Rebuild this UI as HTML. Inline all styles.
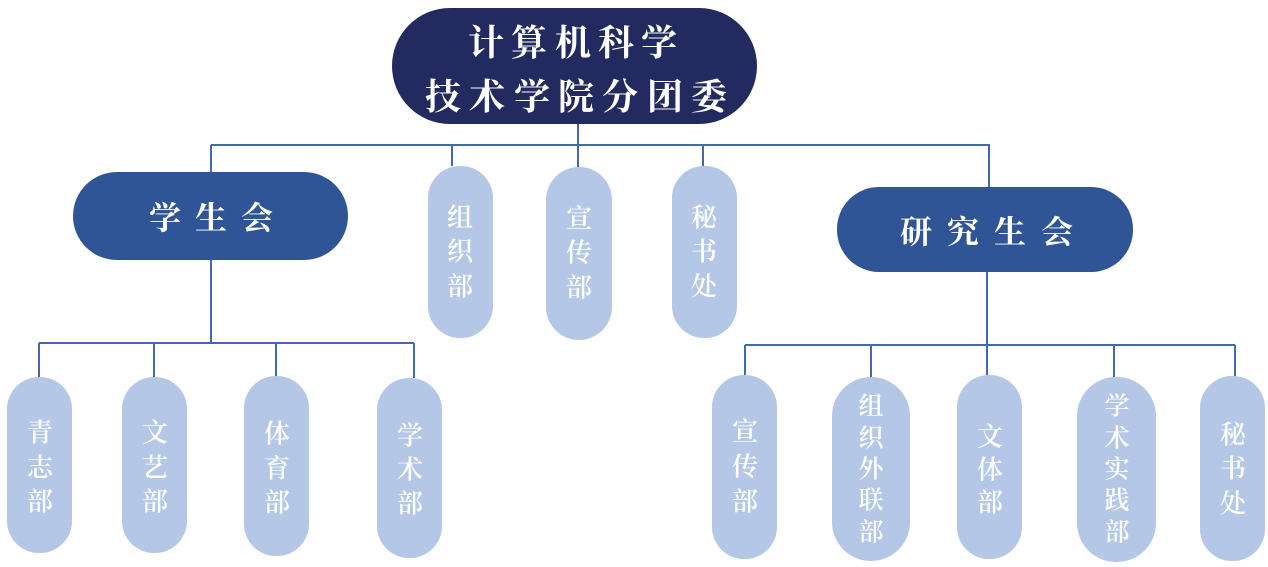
<!DOCTYPE html>
<html>
<head>
<meta charset="utf-8">
<style>
html,body{margin:0;padding:0;background:#ffffff;}
svg{display:block;}
text{font-family:"Liberation Serif","Noto Serif CJK SC","Noto Sans CJK SC",serif;fill:#ffffff;text-anchor:middle;dominant-baseline:central;}
.h{font-weight:700;}
.s{font-size:26px;font-weight:600;}
.s5{font-size:25px;font-weight:600;}
</style>
</head>
<body>
<svg width="1268" height="567" viewBox="0 0 1268 567" xmlns="http://www.w3.org/2000/svg">
  <!-- connectors -->
  <g stroke="#4169ad" stroke-width="2" fill="none">
    <path d="M578 124 V167"/>
    <path d="M211 145 H990"/>
    <path d="M211 145 V173"/>
    <path d="M452 145 V166"/>
    <path d="M703 145 V166"/>
    <path d="M989 145 V188"/>
    <path d="M211 260 V343"/>
    <path d="M39 343 H414"/>
    <path d="M39 343 V377"/>
    <path d="M154 343 V377"/>
    <path d="M276 343 V376"/>
    <path d="M414 343 V378"/>
    <path d="M987 271 V345"/>
    <path d="M745 345 H1235"/>
    <path d="M745 345 V375"/>
    <path d="M871 345 V377"/>
    <path d="M987 345 V375"/>
    <path d="M1114 345 V377"/>
    <path d="M1235 345 V376"/>
  </g>

  <!-- top node -->
  <rect x="392" y="8" width="365" height="116" rx="58" fill="#222a5f"/>
  <g class="h" font-size="36">
    <text x="486" y="43">计</text>
    <text x="529" y="43">算</text>
    <text x="573" y="43">机</text>
    <text x="616" y="43">科</text>
    <text x="659" y="43">学</text>
    <text x="443" y="97">技</text>
    <text x="487" y="97">术</text>
    <text x="532" y="97">学</text>
    <text x="576" y="97">院</text>
    <text x="620" y="97">分</text>
    <text x="665" y="97">团</text>
    <text x="709" y="97">委</text>
  </g>

  <!-- 学生会 -->
  <rect x="73" y="172" width="275" height="88" rx="44" fill="#2f5597"/>
  <g class="h" font-size="32">
    <text x="165" y="218">学</text>
    <text x="211" y="218">生</text>
    <text x="257" y="218">会</text>
  </g>

  <!-- 研究生会 -->
  <rect x="837" y="187" width="296" height="85" rx="42" fill="#2f5597"/>
  <g class="h" font-size="32">
    <text x="916" y="232">研</text>
    <text x="963" y="232">究</text>
    <text x="1010" y="232">生</text>
    <text x="1057" y="232">会</text>
  </g>

  <!-- light boxes -->
  <g fill="#b4c7e7">
    <rect x="428" y="166" width="65" height="172" rx="32"/>
    <rect x="546" y="167" width="66" height="173" rx="33"/>
    <rect x="672" y="166" width="65" height="172" rx="32"/>

    <rect x="7" y="377" width="65" height="176" rx="32"/>
    <rect x="122" y="377" width="65" height="176" rx="32"/>
    <rect x="244" y="376" width="65" height="180" rx="32"/>
    <rect x="377" y="378" width="65" height="180" rx="32"/>

    <rect x="712" y="375" width="65" height="184" rx="32"/>
    <rect x="832" y="377" width="78" height="184" rx="39"/>
    <rect x="957" y="375" width="65" height="184" rx="32"/>
    <rect x="1077" y="377" width="79" height="185" rx="39"/>
    <rect x="1200" y="376" width="65" height="185" rx="32"/>
  </g>

  <g class="s">
    <!-- middle row -->
    <text x="460" y="218">组</text>
    <text x="460" y="252">织</text>
    <text x="460" y="287">部</text>

    <text x="579" y="219">宣</text>
    <text x="579" y="253">传</text>
    <text x="579" y="288">部</text>

    <text x="704" y="218">秘</text>
    <text x="704" y="252">书</text>
    <text x="704" y="287">处</text>

    <!-- bottom left -->
    <text x="40" y="433">青</text>
    <text x="40" y="468">志</text>
    <text x="40" y="502">部</text>

    <text x="155" y="433">文</text>
    <text x="155" y="468">艺</text>
    <text x="155" y="502">部</text>

    <text x="277" y="434">体</text>
    <text x="277" y="469">育</text>
    <text x="277" y="503">部</text>

    <text x="410" y="436">学</text>
    <text x="410" y="470">术</text>
    <text x="410" y="504">部</text>

    <!-- bottom right -->
    <text x="745" y="432">宣</text>
    <text x="745" y="467">传</text>
    <text x="745" y="502">部</text>

    <text x="990" y="437">文</text>
    <text x="990" y="470">体</text>
    <text x="990" y="503">部</text>

    <text x="1233" y="435">秘</text>
    <text x="1233" y="469">书</text>
    <text x="1233" y="504">处</text>
  </g>

  <g class="s5">
    <text x="871" y="407">组</text>
    <text x="871" y="439">织</text>
    <text x="871" y="470">外</text>
    <text x="871" y="501">联</text>
    <text x="871" y="533">部</text>

    <text x="1117" y="407">学</text>
    <text x="1117" y="439">术</text>
    <text x="1117" y="470">实</text>
    <text x="1117" y="501">践</text>
    <text x="1117" y="533">部</text>
  </g>
</svg>
</body>
</html>
